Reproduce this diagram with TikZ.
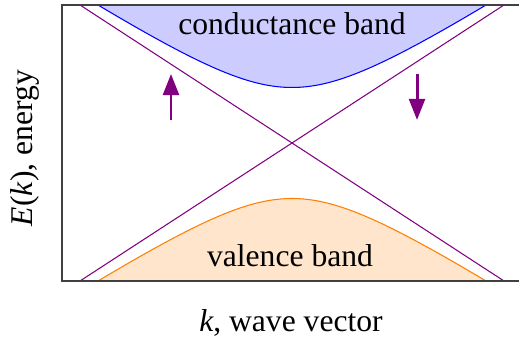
\documentclass[tikz,border=0pt]{standalone}
\usepackage{fontspec}
\setmainfont{Liberation Serif}
\usetikzlibrary{arrows.meta}

\begin{document}
\begin{tikzpicture}[x=0.02cm, y=0.02cm, every node/.style={font=\fontsize{18}{20}\selectfont}]
\tikzstyle{axis}=[draw=black!75, line width=0.75pt]
\tikzstyle{bandline}=[line width=0.6pt]
\tikzstyle{cone}=[draw=violet, line width=0.6pt]
\tikzstyle{spin}=[draw=violet, line width=1.7pt, -{Triangle[length=12pt,width=9pt]}]
\useasboundingbox (0,0) rectangle (519,347);
% bands (hyperbolic dispersion around the crossing point at (292,204))
\fill[blue!20] plot[domain=-194:194, samples=80] ({292+\x},{204+55.5*sqrt(1+(0.01173*\x)^2)}) -- cycle;
\fill[orange!20] plot[domain=-194:194, samples=80] ({292+\x},{204-55.5*sqrt(1+(0.01173*\x)^2)}) -- cycle;
\draw[bandline, blue] plot[domain=-194:194, samples=80] ({292+\x},{204+55.5*sqrt(1+(0.01173*\x)^2)});
\draw[bandline, orange] plot[domain=-194:194, samples=80] ({292+\x},{204-55.5*sqrt(1+(0.01173*\x)^2)});
% massless cone
\coordinate (tl) at (80,342); \coordinate (br) at (504,66);
\coordinate (bl) at (80,66); \coordinate (tr) at (504,342);
\draw[cone] (tl)--(br); \draw[cone] (bl)--(tr);
% frame
\draw[axis] (519,342) -- (62,342) -- (62,66) -- (519,66);
% spin arrows
\coordinate (up0) at (171,227); \coordinate (up1) at (171,273);
\coordinate (dn0) at (417,273); \coordinate (dn1) at (417,227);
\draw[spin] (up0)--(up1); \draw[spin] (dn0)--(dn1);
% labels
\node[anchor=base] (cb) at (292,312) {conductance band};
\node[anchor=base] (vb) at (290,80) {valence band};
\node[anchor=base] (xlab) at (291,15) {\textit{k}, wave vector};
\node[anchor=base, rotate=90] (ylab) at (33,199) {\textit{E}(\textit{k}), energy};
\end{tikzpicture}
\end{document}
